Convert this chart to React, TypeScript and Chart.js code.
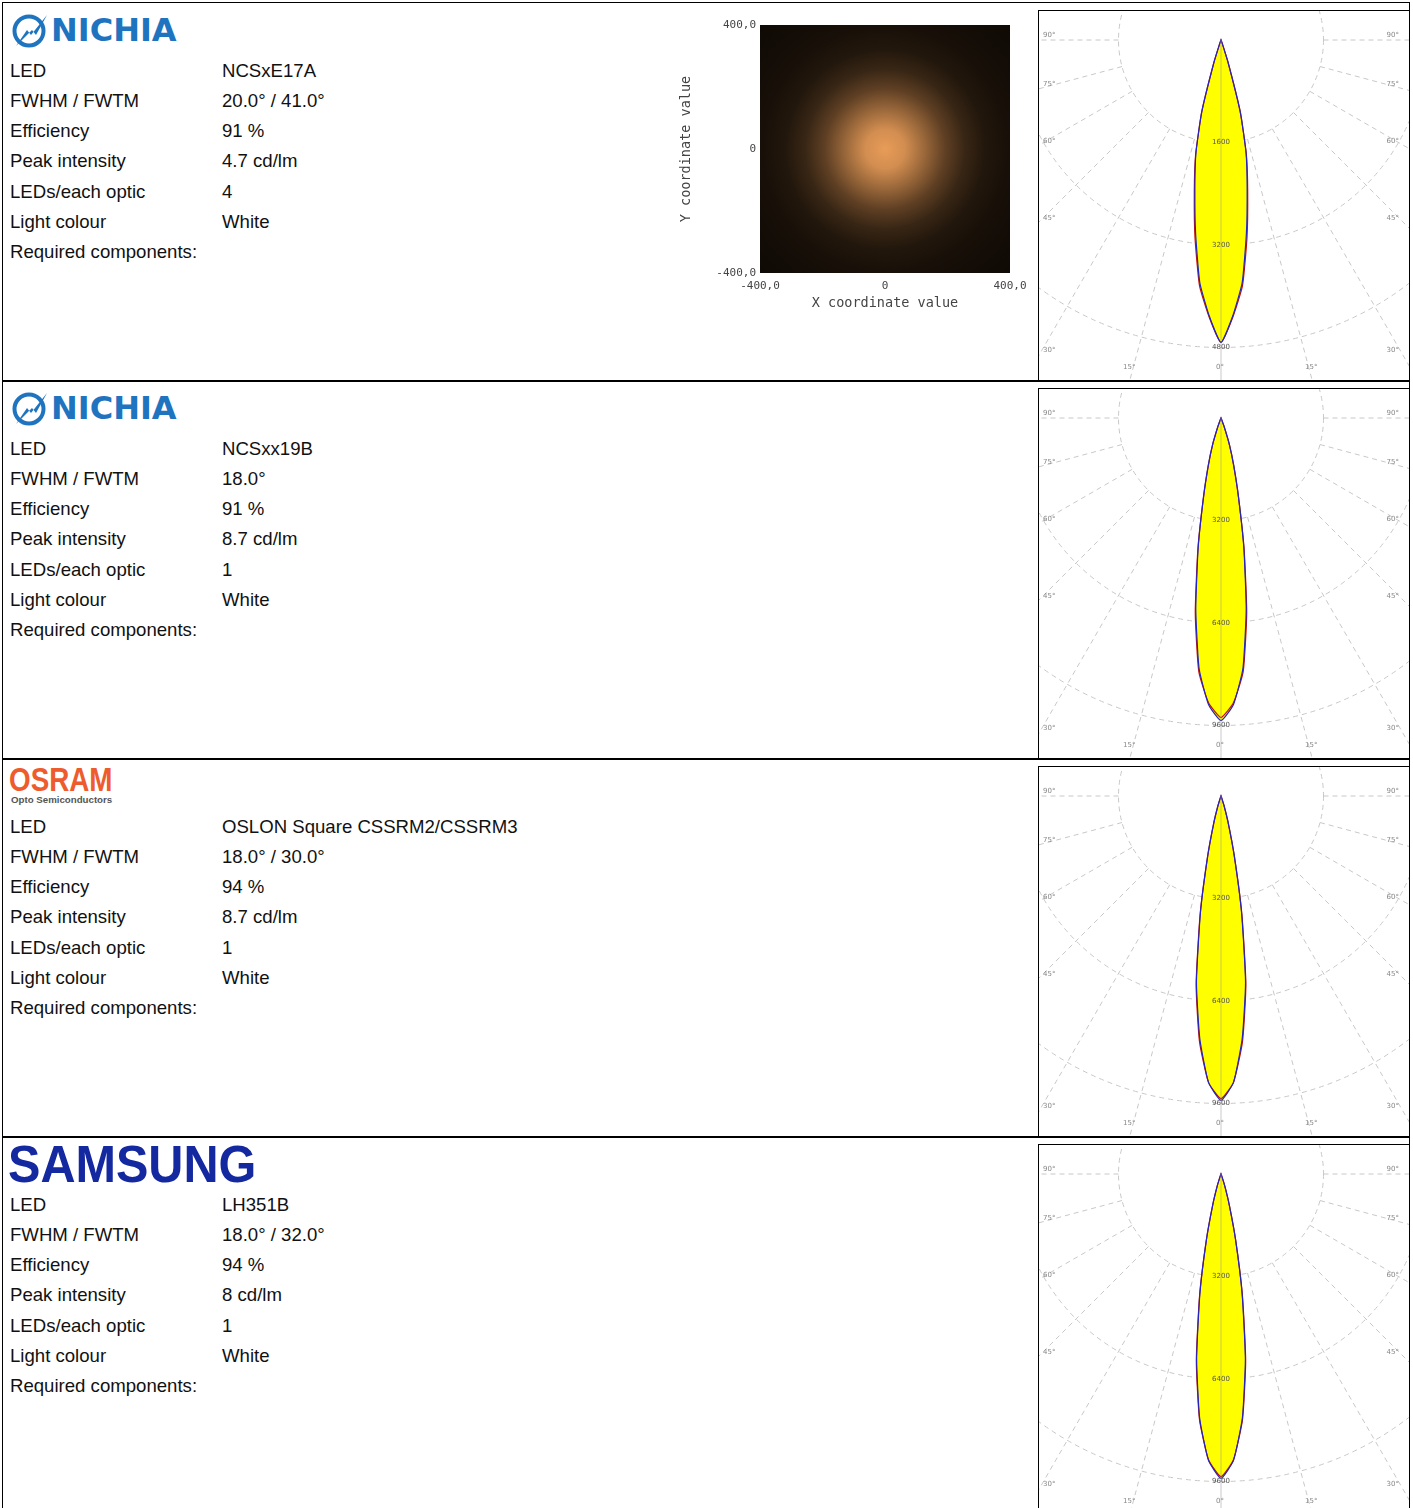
import React, { useEffect, useRef } from 'react';
import { Chart, registerables } from 'chart.js';

Chart.register(...registerables);

// ---------------- data ----------------
const specLabels = ['LED', 'FWHM / FWTM', 'Efficiency', 'Peak intensity', 'LEDs/each optic', 'Light colour', 'Required components:'];
const ledNames = ['NCSxE17A', 'NCSxx19B', 'OSLON Square CSSRM2/CSSRM3', 'LH351B'];
const beamAngles = ['20.0° / 41.0°', '18.0°', '18.0° / 30.0°', '18.0° / 32.0°'];
const efficiencies = ['91 %', '91 %', '94 %', '94 %'];
const peakIntensities = ['4.7 cd/lm', '8.7 cd/lm', '8.7 cd/lm', '8 cd/lm'];
const ledsPerOptic = ['4', '1', '1', '1'];
const lightColours = ['White', 'White', 'White', 'White'];
const requiredComponents = ['', '', '', ''];

// polar candela curves, gamma = index * gammaStep (degrees from the beam axis)
const gammaStep = 2.5;
const ringSteps = [1600, 3200, 3200, 3200];
const curveC0 = [
  [4720, 4300, 3800, 3040, 2350, 1810, 1170, 390, 60, 0],
  [9450, 8950, 7850, 6030, 4100, 2530, 1550, 880, 300, 50, 0],
  [9500, 8950, 7600, 5870, 3700, 1940, 880, 320, 50, 0],
  [9500, 8950, 7650, 5830, 3800, 2120, 1000, 400, 80, 0],
];
const curveC90 = [
  [4720, 4320, 3850, 3110, 2400, 1830, 1150, 360, 50, 0],
  [9350, 8900, 7950, 6150, 4150, 2500, 1500, 850, 280, 40, 0],
  [9450, 8950, 7700, 5950, 3750, 1900, 850, 300, 40, 0],
  [9450, 8930, 7700, 5900, 3850, 2100, 980, 380, 70, 0],
];
const spokeAngles = [15, 30, 45, 60, 75, 90];
const sideAngleLabels = ['90°', '75°', '60°', '45°', '30°'];
const bottomAngleLabels = ['15°', '0°', '15°'];

// illuminance spot (row 1), radial profile
const spotCentreX = 0;
const spotCentreY = 0;
const spotRadiusMm = [0, 64, 128, 192, 256, 320, 400, 560];
const spotLevel = [1.0, 0.9, 0.64, 0.38, 0.2, 0.1, 0.05, 0.015];
const spotTicks = [-400, 0, 400];

// ---------------- layout ----------------
const rowTops = [2, 380, 758, 1136];
const LINE_H = 30.15;
const FONT = '"Liberation Sans", Arial, sans-serif';

const polarGuides = {
  id: 'polarGuides',
  beforeDatasetsDraw(chart: any) {
    const s = chart.scales.r;
    const ctx = chart.ctx;
    const n = chart.data.labels.length;
    const step = s.options.ticks.stepSize;
    const r1 = s.getDistanceFromCenterForValue(step);
    const rMax = s.getDistanceFromCenterForValue(s.max);
    ctx.save();
    ctx.strokeStyle = '#c8c8c8';
    ctx.lineWidth = 1;
    ctx.setLineDash([5, 4]);
    for (const a of spokeAngles) {
      for (const sign of [1, -1]) {
        const idx = (Math.round((sign * a) / gammaStep) + n) % n;
        const p1 = s.getPointPosition(idx, r1);
        const p2 = s.getPointPosition(idx, rMax);
        ctx.beginPath();
        ctx.moveTo(p1.x, p1.y);
        ctx.lineTo(p2.x, p2.y);
        ctx.stroke();
      }
    }
    ctx.restore();
  },
  afterDatasetsDraw(chart: any) {
    const s = chart.scales.r;
    const ctx = chart.ctx;
    const step = s.options.ticks.stepSize;
    const rMax = s.getDistanceFromCenterForValue(s.max);
    ctx.save();
    ctx.strokeStyle = 'rgba(150,150,150,0.5)';
    ctx.lineWidth = 1;
    const p = s.getPointPosition(0, rMax);
    ctx.beginPath();
    ctx.moveTo(s.xCenter, s.yCenter);
    ctx.lineTo(p.x, p.y);
    ctx.stroke();
    ctx.fillStyle = '#555';
    ctx.font = '7px "DejaVu Sans", sans-serif';
    ctx.textAlign = 'center';
    ctx.textBaseline = 'middle';
    for (let k = 1; k <= 3; k++) {
      const q = s.getPointPosition(0, s.getDistanceFromCenterForValue(step * k));
      ctx.fillText(String(step * k), q.x, q.y);
    }
    ctx.restore();
  },
};

function buildRing(profile: number[]): number[] {
  const n = Math.round(360 / gammaStep);
  return Array.from({ length: n }, (_, k) => {
    const g = Math.min(k, n - k);
    return g < profile.length ? profile[g] : 0;
  });
}

function PolarPlot({ row }: { row: number }) {
  const ref = useRef<HTMLCanvasElement>(null);
  const top = rowTops[row];
  useEffect(() => {
    if (!ref.current) return;
    const n = Math.round(360 / gammaStep);
    const step = ringSteps[row];
    const chart = new Chart(ref.current, {
      type: 'radar',
      data: {
        labels: Array.from({ length: n }, (_, k) => `${k * gammaStep}°`),
        datasets: [
          { data: buildRing(curveC0[row]), borderColor: '#2424c0', backgroundColor: '#ffff00', fill: true, borderWidth: 1.2, pointRadius: 0 },
          { data: buildRing(curveC90[row]), borderColor: '#c01010', backgroundColor: '#ffff00', fill: true, borderWidth: 1.2, pointRadius: 0 },
        ],
      },
      options: {
        responsive: false,
        animation: false,
        layout: { padding: 0 },
        elements: { line: { tension: 0.16 } },
        plugins: {
          legend: { display: false },
          tooltip: { enabled: false },
          filler: { drawTime: 'beforeDatasetsDraw' },
        } as any,
        scales: {
          r: {
            min: 0,
            max: step * 4,
            startAngle: 180,
            ticks: { display: false, stepSize: step },
            grid: { circular: true, color: '#c8c8c8', lineWidth: 1 },
            border: { dash: [5, 4] },
            angleLines: { display: false },
            pointLabels: { display: false },
          } as any,
        },
      },
      plugins: [polarGuides],
    });
    return () => chart.destroy();
  }, [row]);

  const sideY = [33, 82, 139, 216, 348];
  const bottomX = [89, 182, 271];
  const lbl: React.CSSProperties = { position: 'absolute', font: '7px "DejaVu Sans", sans-serif', color: '#888', whiteSpace: 'nowrap', lineHeight: '8px' };
  return (
    <div style={{ position: 'absolute', left: 1038, top: top + 8, width: 370, height: 369, borderLeft: '1px solid #000', borderTop: '1px solid #000', overflow: 'hidden', background: '#fff' }}>
      <div style={{ position: 'absolute', left: 1221 - 410 - 1039, top: -381, width: 820, height: 820 }}>
        <canvas ref={ref} width={820} height={820} style={{ width: 820, height: 820 }} />
      </div>
      {sideAngleLabels.map((t, i) => (
        <React.Fragment key={i}>
          <span style={{ ...lbl, left: 4, top: sideY[i] - 9 - 4 }}>{t}</span>
          <span style={{ ...lbl, right: 10, top: sideY[i] - 9 - 4 }}>{t}</span>
        </React.Fragment>
      ))}
      {bottomAngleLabels.map((t, i) => (
        <span key={'b' + i} style={{ ...lbl, left: bottomX[i] - 5, top: 365 - 9 - 4 }}>{t}</span>
      ))}
    </div>
  );
}

function spotColour(level: number): string {
  const dark = [12, 8, 4];
  const bright = [232, 156, 88];
  const c = dark.map((d, i) => Math.round(d + (bright[i] - d) * level));
  return `rgb(${c[0]},${c[1]},${c[2]})`;
}

const spotPlugin = {
  id: 'spotPlugin',
  beforeDatasetsDraw(chart: any) {
    const { ctx, chartArea: a, scales } = chart;
    const x = scales.x;
    const y = scales.y;
    const cx = x.getPixelForValue(spotCentreX);
    const cy = y.getPixelForValue(spotCentreY);
    const maxR = spotRadiusMm[spotRadiusMm.length - 1];
    const rPx = Math.abs(x.getPixelForValue(spotCentreX + maxR) - cx);
    const g = ctx.createRadialGradient(cx, cy, 0, cx, cy, rPx);
    spotRadiusMm.forEach((r, i) => g.addColorStop(r / maxR, spotColour(spotLevel[i])));
    ctx.save();
    ctx.beginPath();
    ctx.rect(a.left, a.top, a.right - a.left, a.bottom - a.top);
    ctx.clip();
    ctx.fillStyle = g;
    ctx.fillRect(a.left, a.top, a.right - a.left, a.bottom - a.top);
    ctx.restore();
  },
};

const fmtTick = (v: number) => (v === 0 ? '0' : v.toFixed(1).replace('.', ','));

function SpotChart() {
  const ref = useRef<HTMLCanvasElement>(null);
  useEffect(() => {
    if (!ref.current) return;
    const tickFont = { family: '"DejaVu Sans Mono", monospace', size: 11 };
    const titleFont = { family: '"DejaVu Sans Mono", monospace', size: 13.5 };
    const chart = new Chart(ref.current, {
      type: 'scatter',
      data: { datasets: [{ data: [{ x: spotCentreX, y: spotCentreY }], pointRadius: 0 }] },
      options: {
        responsive: false,
        animation: false,
        layout: { padding: { left: 0, right: 26, top: 13, bottom: 0 } },
        plugins: { legend: { display: false }, tooltip: { enabled: false } },
        scales: {
          x: {
            type: 'linear', min: spotTicks[0], max: spotTicks[2],
            afterBuildTicks: (s: any) => { s.ticks = spotTicks.map((v) => ({ value: v })); },
            afterFit: (s: any) => { s.height = 43; },
            grid: { display: false, drawTicks: false },
            border: { display: false },
            ticks: { padding: 7, maxRotation: 0, autoSkip: false, color: '#444', font: tickFont, callback: (v: any) => fmtTick(Number(v)) },
            title: { display: true, text: 'X coordinate value', color: '#444', font: titleFont },
          },
          y: {
            type: 'linear', min: spotTicks[0], max: spotTicks[2],
            afterBuildTicks: (s: any) => { s.ticks = spotTicks.map((v) => ({ value: v })); },
            afterFit: (s: any) => { s.width = 86; },
            grid: { display: false, drawTicks: false },
            border: { display: false },
            ticks: { padding: 4, autoSkip: false, color: '#444', font: tickFont, callback: (v: any) => fmtTick(Number(v)) },
            title: { display: true, text: 'Y coordinate value', color: '#444', font: titleFont },
          },
        } as any,
      },
      plugins: [spotPlugin],
    });
    return () => chart.destroy();
  }, []);
  return (
    <div style={{ position: 'absolute', left: 674, top: 12, width: 362, height: 304 }}>
      <canvas ref={ref} width={362} height={304} style={{ width: 362, height: 304 }} />
    </div>
  );
}

function NichiaLogo({ top }: { top: number }) {
  return (
    <>
      <svg style={{ position: 'absolute', left: 11, top: top + 11 }} width={38} height={36} viewBox="0 0 38 36">
        <circle cx={18} cy={18} r={14.5} fill="none" stroke="#1f74bf" strokeWidth={4} />
        <polygon points="5,33 16,17 20,22 36,2 25,22 21,17" fill="#1f74bf" />
      </svg>
      <span style={{ position: 'absolute', left: 51, top: top + 12, font: 'bold 32px "DejaVu Sans", sans-serif', lineHeight: '32px', color: '#1f74bf', whiteSpace: 'nowrap' }}>NICHIA</span>
    </>
  );
}

function OsramLogo({ top }: { top: number }) {
  return (
    <>
      <span style={{ position: 'absolute', left: 8.5, top: top + 4.7, font: `bold 33.5px ${FONT}`, lineHeight: '33.5px', color: '#ee5b2c', whiteSpace: 'nowrap', transform: 'scaleX(0.83)', transformOrigin: 'left top' }}>OSRAM</span>
      <span style={{ position: 'absolute', left: 11, top: top + 37, font: `bold 9.7px ${FONT}`, lineHeight: '10px', color: '#555', whiteSpace: 'nowrap' }}>Opto Semiconductors</span>
    </>
  );
}

function SamsungLogo({ top }: { top: number }) {
  return (
    <span style={{ position: 'absolute', left: 8, top: top + 3.2, font: `bold 51.7px ${FONT}`, lineHeight: '51.7px', color: '#1428a0', whiteSpace: 'nowrap', transform: 'scaleX(0.94)', transformOrigin: 'left top' }}>SAMSUNG</span>
  );
}

function SpecRow({ row }: { row: number }) {
  const top = rowTops[row];
  const values = [ledNames[row], beamAngles[row], efficiencies[row], peakIntensities[row], ledsPerOptic[row], lightColours[row], requiredComponents[row]];
  const txt: React.CSSProperties = { position: 'absolute', font: `18.6px ${FONT}`, lineHeight: `${LINE_H}px`, color: '#111', whiteSpace: 'nowrap' };
  return (
    <>
      {specLabels.map((l, j) => (
        <React.Fragment key={j}>
          <div style={{ ...txt, left: 10, top: top + 54 + j * LINE_H }}>{l}</div>
          <div style={{ ...txt, left: 222, top: top + 54 + j * LINE_H }}>{values[j]}</div>
        </React.Fragment>
      ))}
    </>
  );
}

export default function App() {
  return (
    <div style={{ position: 'absolute', left: 0, top: 0, width: 1413, height: 1508, overflow: 'hidden', background: '#fff' }}>
      {/* frame */}
      <div style={{ position: 'absolute', left: 2, top: 2, width: 1408, height: 1, background: '#000' }} />
      <div style={{ position: 'absolute', left: 2, top: 2, width: 1, height: 1510, background: '#000' }} />
      <div style={{ position: 'absolute', left: 1409, top: 2, width: 1, height: 1510, background: '#000' }} />
      {rowTops.slice(1).map((t, i) => (
        <div key={i} style={{ position: 'absolute', left: 2, top: t, width: 1408, height: 2, background: '#000' }} />
      ))}

      <NichiaLogo top={rowTops[0]} />
      <NichiaLogo top={rowTops[1]} />
      <OsramLogo top={rowTops[2]} />
      <SamsungLogo top={rowTops[3]} />

      {[0, 1, 2, 3].map((r) => <SpecRow key={r} row={r} />)}

      <SpotChart />
      {[0, 1, 2, 3].map((r) => <PolarPlot key={'p' + r} row={r} />)}
    </div>
  );
}
